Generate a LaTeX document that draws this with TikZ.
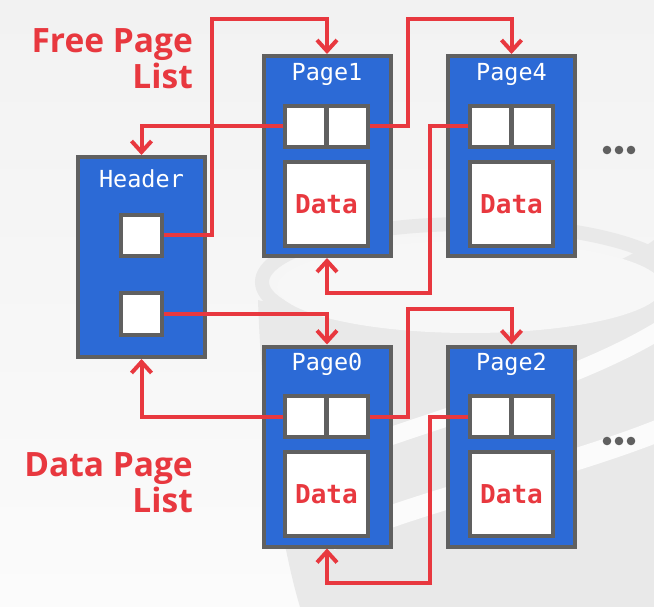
\documentclass[tikz,border=0pt]{standalone}
\usepackage{fontspec}
\setmainfont{Open Sans}
\newfontfamily\monofont{DejaVu Sans Mono}
\usetikzlibrary{arrows.meta}
\definecolor{pageblue}{HTML}{2C6AD6}
\definecolor{boxgray}{HTML}{606060}
\definecolor{linkred}{HTML}{E8383F}
\definecolor{bgtop}{HTML}{F2F2F2}
\definecolor{bgbot}{HTML}{FBFBFB}
\definecolor{wmark}{HTML}{E9E9E9}
\tikzset{
  pagebox/.style={draw=boxgray, fill=pageblue, line width=4pt, outer sep=2pt, inner sep=0pt, minimum width=127pt, minimum height=200pt},
  cellbox/.style={draw=boxgray, fill=white, line width=4pt, outer sep=2pt, inner sep=0pt, minimum width=41pt, minimum height=41pt},
  databox/.style={draw=boxgray, fill=white, line width=4pt, outer sep=2pt, inner sep=0pt, minimum width=83pt, minimum height=84pt,
    font=\monofont\bfseries\fontsize{26}{26}\selectfont, text=linkred},
  pagelabel/.style={font=\monofont\fontsize{23.5}{23.5}\selectfont, text=white, inner sep=0pt},
  listlabel/.style={font=\bfseries\fontsize{33.5}{33.5}\selectfont, text=linkred, inner sep=0pt},
  link/.style={draw=linkred, line width=4pt, -{Straight Barb[length=11pt,width=20pt]}},
  dotmark/.style={fill=boxgray, draw=none}
}
\begin{document}
\begin{tikzpicture}[x=1pt,y=-1pt]
\useasboundingbox (0,0) rectangle (654,607);
\shade[top color=bgtop, bottom color=bgbot] (0,0) rectangle (654,607);
% faint database watermark
\begin{scope}
\clip (0,0) rectangle (654,607);
\fill[wmark] (258,300) .. controls (262,420) and (280,540) .. (300,607) -- (654,607) -- (654,240) .. controls (600,280) and (500,300) .. (420,300) .. controls (340,300) and (270,305) .. (258,300) -- cycle;
\draw[wmark, line width=14pt] (470,282) ellipse [x radius=208pt, y radius=58pt];
\fill[bgbot!60!bgtop] (470,287) ellipse [x radius=193pt, y radius=46pt];
\draw[bgbot, line width=22pt] (330,540) .. controls (420,500) and (560,470) .. (660,430);
\draw[bgbot, line width=18pt] (300,470) .. controls (420,420) and (560,390) .. (660,330);
\end{scope}
% pages
\node[pagebox] (hd) at (141.5,257) {};
\node[pagelabel] (hdl) at (141.5,179) {Header};
\node[cellbox] (h1) at (141.5,235.5) {};
\node[cellbox, minimum height=42pt] (h2) at (141.5,314) {};

\node[pagebox] (p1) at (327,156) {};
\node[pagelabel] (p1l) at (327,74) {Page1};
\node[cellbox] (p1a) at (305.5,126.5) {};
\node[cellbox] (p1b) at (347,126.5) {};
\node[databox] (p1d) at (326.5,204) {Data};

\node[pagebox] (p4) at (511.5,156) {};
\node[pagelabel] (p4l) at (511.5,74) {Page4};
\node[cellbox] (p4a) at (490.5,126.5) {};
\node[cellbox] (p4b) at (532,126.5) {};
\node[databox] (p4d) at (511.5,204) {Data};

\node[pagebox] (p0) at (327,446.5) {};
\node[pagelabel] (p0l) at (327,364.5) {Page0};
\node[cellbox] (p0a) at (305.5,416.5) {};
\node[cellbox] (p0b) at (347,416.5) {};
\node[databox] (p0d) at (326.5,494) {Data};

\node[pagebox] (p2) at (511.5,446.5) {};
\node[pagelabel] (p2l) at (511.5,364.5) {Page2};
\node[cellbox] (p2a) at (490.5,416.5) {};
\node[cellbox] (p2b) at (532,416.5) {};
\node[databox] (p2d) at (511.5,494) {Data};

% list labels
\node[listlabel, anchor=base east] (fpl1) at (193,53) {Free Page};
\node[listlabel, anchor=base east] (fpl2) at (193,89) {List};
\node[listlabel, anchor=base east] (dpl1) at (193,476) {Data Page};
\node[listlabel, anchor=base east] (dpl2) at (193,512) {List};

% ellipses
\foreach \yy in {150,441}{
  \foreach \xx in {607,619,631}{
    \fill[dotmark] (\xx,\yy) circle (4.3pt);
  }
}

% links
\draw[link] (h1.east) -| (212,19) -| (p1.north);
\draw[link] (p1a.west) -| (hd.north);
\draw[link] (p1b.east) -| (408,19) -| (p4.north);
\draw[link] (p4a.west) -| (430,293) -| (p1.south);
\draw[link] (h2.east) -| (p0.north);
\draw[link] (p0a.west) -| (hd.south);
\draw[link] (p0b.east) -| (408,309) -| (p2.north);
\draw[link] (p2a.west) -| (430,583) -| (p0.south);
\end{tikzpicture}
\end{document}
